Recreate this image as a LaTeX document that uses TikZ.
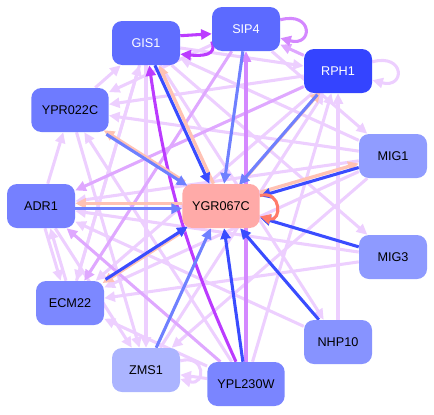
\documentclass[tikz,border=0pt]{standalone}
\usepackage{fontspec}
\setmainfont{Liberation Sans}
\usetikzlibrary{arrows.meta,backgrounds}

\definecolor{weakc}{HTML}{EDCFFF}
\definecolor{midc}{HTML}{DFA8FF}
\definecolor{purc}{HTML}{D488FF}
\definecolor{strongc}{HTML}{BB3BFF}
\definecolor{bluec}{HTML}{3A4CFF}
\definecolor{lbluec}{HTML}{6F80FF}
\definecolor{salmonc}{HTML}{FFC2B4}
\definecolor{redc}{HTML}{FF7A6A}

\tikzset{
  gene/.style={rectangle, rounded corners=7.5pt, minimum width=51pt,
    minimum height=33pt, inner sep=2pt, font=\fontsize{9.5}{11}\selectfont},
  wide/.style={minimum width=58pt},
  tip/.style={-{Triangle[length=8pt,width=7.5pt]}},
  weak/.style={tip, draw=weakc, line width=2.3pt},
  mid/.style={tip, draw=midc, line width=2.3pt},
  pur/.style={tip, draw=purc, line width=2.3pt},
  strong/.style={tip, draw=strongc, line width=2.3pt},
  blue/.style={tip, draw=bluec, line width=2.3pt},
  lblue/.style={tip, draw=lbluec, line width=2.3pt},
  salmon/.style={tip, draw=salmonc, line width=2.5pt},
  selfred/.style={tip, draw=redc, line width=2.3pt}
}

\begin{document}
\begin{tikzpicture}[x=0.75pt,y=-0.75pt]
\useasboundingbox (0,0) rectangle (434,414);

% genes
\node[gene, fill={rgb,255:red,95;green,109;blue,255}, text=white] (GIS1) at (146,43) {GIS1};
\node[gene, fill={rgb,255:red,92;green,106;blue,255}, text=white] (SIP4) at (246,29) {SIP4};
\node[gene, fill={rgb,255:red,52;green,68;blue,255}, text=white] (RPH1) at (338,71) {RPH1};
\node[gene, wide, fill={rgb,255:red,110;green,123;blue,255}] (YPR022C) at (70,110) {YPR022C};
\node[gene, fill={rgb,255:red,144;green,156;blue,255}] (MIG1) at (393,156) {MIG1};
\node[gene, fill={rgb,255:red,117;green,128;blue,255}] (ADR1) at (41,206) {ADR1};
\node[gene, wide, fill={rgb,255:red,255;green,170;blue,168}] (YGR067C) at (221,206) {YGR067C};
\node[gene, fill={rgb,255:red,142;green,154;blue,255}] (MIG3) at (393,257) {MIG3};
\node[gene, fill={rgb,255:red,124;green,136;blue,255}] (ECM22) at (70,303) {ECM22};
\node[gene, fill={rgb,255:red,135;green,147;blue,255}] (NHP10) at (338,342) {NHP10};
\node[gene, fill={rgb,255:red,171;green,180;blue,255}] (ZMS1) at (146,370) {ZMS1};
\node[gene, wide, fill={rgb,255:red,122;green,133;blue,255}] (YPL230W) at (246,384) {YPL230W};

\begin{pgfonlayer}{background}
% pale links
\foreach \a/\b in {GIS1/RPH1, RPH1/YPR022C, MIG1/YPR022C, MIG1/GIS1, MIG1/ADR1,
  MIG1/ECM22, MIG1/ZMS1, MIG3/ADR1, MIG3/ECM22, GIS1/MIG3, NHP10/RPH1, NHP10/ADR1,
  YPL230W/YPR022C, YPL230W/ECM22, YPL230W/ZMS1, ADR1/YPR022C, YPR022C/ZMS1,
  ADR1/ZMS1, GIS1/ZMS1, GIS1/ECM22, SIP4/YPR022C, RPH1/ECM22, ZMS1/RPH1,
  ECM22/GIS1, YPR022C/GIS1, SIP4/MIG1, GIS1/NHP10, YPL230W/RPH1}
  \draw[weak] (\a) -- (\b);
\draw[weak, transform canvas={xshift=-2pt}] (ADR1) -- (ECM22);
\draw[weak, transform canvas={xshift=2pt}] (ECM22) -- (ADR1);
\path (RPH1) edge[weak, loop right, min distance=9mm] (RPH1);
\path (ZMS1) edge[weak, loop right, min distance=7mm] (ZMS1);

% purple links
\foreach \a/\b in {RPH1/ADR1, YPL230W/ADR1, RPH1/SIP4, SIP4/ECM22}
  \draw[mid] (\a) -- (\b);
\draw[pur] (YPL230W) -- (SIP4);
\path (SIP4) edge[pur, loop right, min distance=9mm] (SIP4);
\draw[strong] (YPL230W) to[bend left=8] (GIS1);
\draw[strong] (GIS1.12) -- (SIP4.188);
\draw[strong] (SIP4.200) .. controls +(6,14) and +(22,2) .. (GIS1.-18);

% links to YGR067C
\draw[salmon, transform canvas={shift={(2pt,0pt)}}] (YGR067C) -- (GIS1);
\draw[blue, transform canvas={shift={(-1pt,0pt)}}] (GIS1) -- (YGR067C);
\draw[lblue] (SIP4) -- (YGR067C);
\draw[salmon, transform canvas={shift={(1.5pt,1.5pt)}}] (YGR067C) -- (RPH1);
\draw[lblue, transform canvas={shift={(-1pt,-1pt)}}] (RPH1) -- (YGR067C);
\draw[salmon, transform canvas={shift={(0pt,1.8pt)}}] (YGR067C) -- (MIG1);
\draw[blue, transform canvas={shift={(0pt,-1.2pt)}}] (MIG1) -- (YGR067C);
\draw[salmon, transform canvas={shift={(0pt,2pt)}}] (YGR067C) -- (ADR1);
\draw[lblue, transform canvas={shift={(0pt,-2pt)}}] (ADR1) -- (YGR067C);
\draw[salmon, transform canvas={shift={(-1pt,1.5pt)}}] (YGR067C) -- (YPR022C);
\draw[lblue, transform canvas={shift={(1pt,-1.5pt)}}] (YPR022C) -- (YGR067C);
\draw[salmon, transform canvas={shift={(-1.2pt,-1.5pt)}}] (YGR067C) -- (ECM22);
\draw[blue, transform canvas={shift={(1pt,1.2pt)}}] (ECM22) -- (YGR067C);
\draw[lblue] (ZMS1) -- (YGR067C);
\draw[blue] (YPL230W) -- (YGR067C);
\draw[blue] (NHP10) -- (YGR067C);
\draw[blue] (MIG3) -- (YGR067C);
\path (YGR067C) edge[selfred, loop right, min distance=6mm] (YGR067C);
\end{pgfonlayer}
\end{tikzpicture}
\end{document}
